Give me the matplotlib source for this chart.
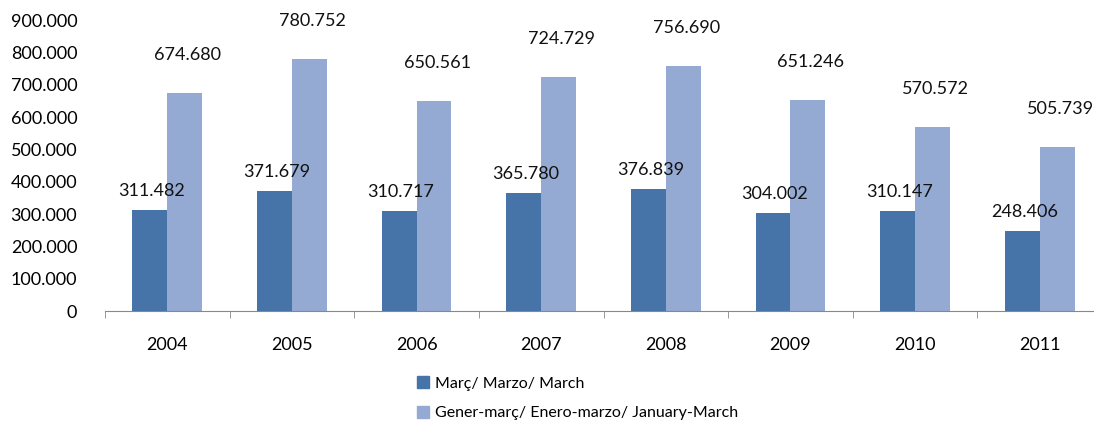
import matplotlib
matplotlib.use("Agg")
import matplotlib.pyplot as plt
import numpy as np
from matplotlib.patches import Patch

years = ["2004", "2005", "2006", "2007", "2008", "2009", "2010", "2011"]
march = [311482, 371679, 310717, 365780, 376839, 304002, 310147, 248406]
jan_march = [674680, 780752, 650561, 724729, 756690, 651246, 570572, 505739]
yticks = [0, 100000, 200000, 300000, 400000, 500000, 600000, 700000, 800000, 900000]
labels_series = ["Març/ Marzo/ March", "Gener-març/ Enero-marzo/ January-March"]

dark = "#4673A8"
light = "#95AAD3"

def fmt(v):
    return f"{v:,}".replace(",", ".")

plt.rcParams['font.family'] = ['Lato', 'DejaVu Sans']

W, H = 1094, 423
fig = plt.figure(figsize=(W / 100, H / 100), dpi=100)
left, right = 105 / W, 1102 / W
bottom, top = 1 - 311 / H, 1 - 20 / H
ax = fig.add_axes([left, bottom, right - left, top - bottom])

x = np.arange(len(years))
bw = 0.28
ax.bar(x - bw / 2, march, bw, color=dark, clip_on=False)
ax.bar(x + bw / 2, jan_march, bw, color=light, clip_on=False)

for xi, v in zip(x, march):
    ax.annotate(fmt(v), (xi - bw / 2, v), xytext=(2, 19), textcoords="offset pixels",
                ha="center", va="center", fontsize=13, color="#111111", annotation_clip=False)
for xi, v in zip(x, jan_march):
    ax.annotate(fmt(v), (xi + bw / 2, v), xytext=(3, 38), textcoords="offset pixels",
                ha="center", va="center", fontsize=13, color="#111111", annotation_clip=False)

ax.set_xlim(-0.5, len(years) - 0.5)
ax.set_ylim(0, 900000)
ax.set_yticks(yticks)
ax.set_yticklabels([fmt(v) for v in yticks], fontsize=13)
ax.set_xticks(x)
ax.set_xticklabels(years, fontsize=13)
ax.set_xticks(np.arange(-0.5, len(years), 1), minor=True)
ax.tick_params(axis="x", which="major", length=0, pad=19)
ax.tick_params(axis="x", which="minor", length=5, color="#888888")
ax.tick_params(axis="y", length=0, pad=20)
for s in ["top", "right", "left"]:
    ax.spines[s].set_visible(False)
ax.spines["bottom"].set_color("#888888")

handles = [Patch(color=dark), Patch(color=light)]
fig.legend(handles, labels_series, loc="upper left", bbox_to_anchor=(403 / W, 1 - 362 / H),
           frameon=False, fontsize=11.5, handlelength=0.75, handleheight=0.75,
           handletextpad=0.35, labelspacing=0.95)

fig.savefig("out.png", dpi=100)
